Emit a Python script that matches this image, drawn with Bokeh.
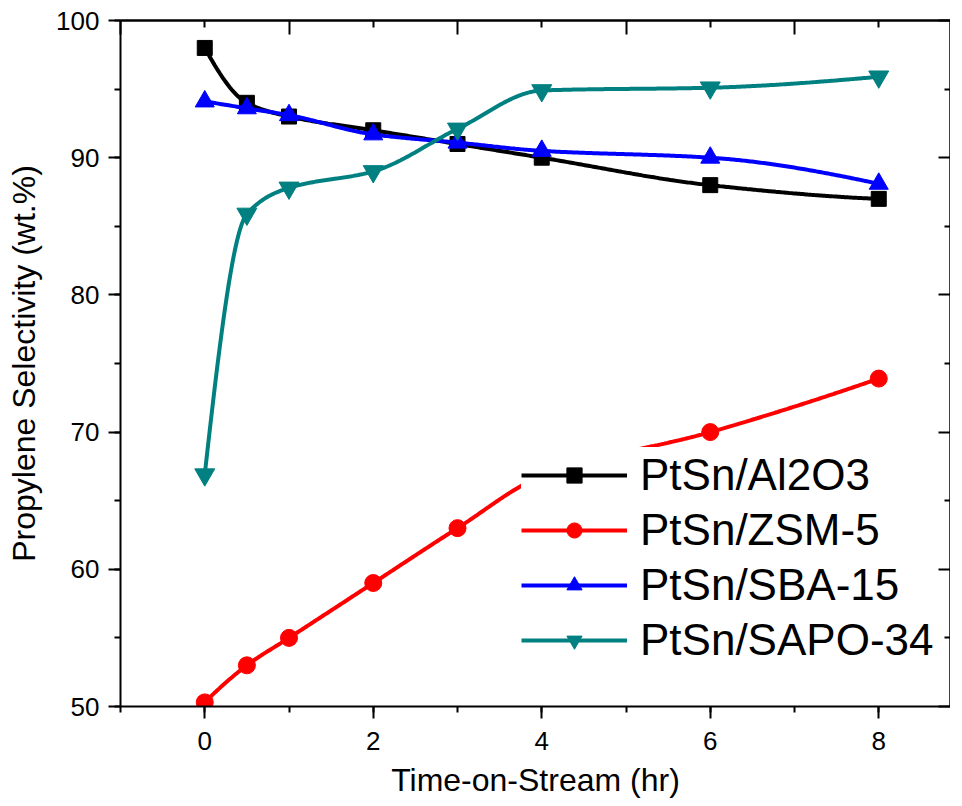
import numpy as np
from bokeh.plotting import figure
from bokeh.models import (Range1d, LinearAxis, SingleIntervalTicker, FixedTicker,
                          Legend, LegendItem)
from bokeh.embed import file_html
from bokeh.resources import INLINE

# ---- data ----
time_hr = [0, 0.5, 1, 2, 3, 4, 6, 8]
al2o3 = [98.0, 94.0, 93.0, 92.0, 91.0, 90.0, 88.0, 87.0]
zsm5 = [50.3, 53.0, 55.0, 59.0, 63.0, 66.8, 70.0, 73.9]
sba15 = [94.1, 93.6, 93.1, 91.7, 91.1, 90.5, 90.0, 88.1]
sapo34 = [66.9, 85.9, 87.8, 89.0, 92.1, 94.9, 95.1, 95.9]

series_names = ["PtSn/Al2O3", "PtSn/ZSM-5", "PtSn/SBA-15", "PtSn/SAPO-34"]
series_values = [al2o3, zsm5, sba15, sapo34]
series_colors = ["#000000", "#FF0000", "#0000FF", "#008080"]
series_markers = ["square", "circle", "triangle", "inverted_triangle"]
series_sizes = [15, 17, 19, 20]

# tick positions of the unlabelled top / right frame sides
top_long_ticks = [-1, 1, 3, 5, 7, 9]
top_short_ticks = [0, 2, 4, 6, 8]
right_long_ticks = [50, 60, 70, 80, 90, 100]
right_short_ticks = [55, 65, 75, 85, 95]

FONT = "Liberation Sans"


def pchip(x, y, xs):
    """Shape-preserving cubic (smooth connecting line through the points)."""
    x = np.asarray(x, float)
    y = np.asarray(y, float)
    n = len(x)
    h = np.diff(x)
    delta = np.diff(y) / h
    d = np.zeros(n)
    for k in range(1, n - 1):
        if delta[k - 1] * delta[k] <= 0:
            d[k] = 0.0
        else:
            w1 = 2 * h[k] + h[k - 1]
            w2 = h[k] + 2 * h[k - 1]
            d[k] = (w1 + w2) / (w1 / delta[k - 1] + w2 / delta[k])

    def end(h0, h1, d0, d1):
        v = ((2 * h0 + h1) * d0 - h0 * d1) / (h0 + h1)
        if np.sign(v) != np.sign(d0):
            v = 0.0
        elif np.sign(d0) != np.sign(d1) and abs(v) > abs(3 * d0):
            v = 3 * d0
        return v

    d[0] = end(h[0], h[1], delta[0], delta[1])
    d[-1] = end(h[-1], h[-2], delta[-1], delta[-2])
    xs = np.asarray(xs, float)
    idx = np.clip(np.searchsorted(x, xs, side="right") - 1, 0, n - 2)
    t = (xs - x[idx]) / h[idx]
    h00 = 2 * t**3 - 3 * t**2 + 1
    h10 = t**3 - 2 * t**2 + t
    h01 = -2 * t**3 + 3 * t**2
    h11 = t**3 - t**2
    return (h00 * y[idx] + h10 * h[idx] * d[idx] + h01 * y[idx + 1]
            + h11 * h[idx] * d[idx + 1])


frame_w = 830
px_per_unit = 84.25
x_start = -1.0
x_end = x_start + frame_w / px_per_unit

p = figure(frame_width=frame_w, frame_height=686,
           x_range=Range1d(x_start, x_end), y_range=Range1d(50, 100),
           output_backend="svg", toolbar_location=None,
           min_border_left=120, min_border_top=20, min_border_bottom=92,
           min_border_right=0)
p.xgrid.visible = False
p.ygrid.visible = False
p.outline_line_color = None
p.background_fill_color = "white"

# bottom axis
xb = p.xaxis[0]
xb.ticker = SingleIntervalTicker(interval=2, num_minor_ticks=2)
xb.axis_label = "Time-on-Stream (hr)"
# left axis
yl = p.yaxis[0]
yl.ticker = SingleIntervalTicker(interval=10, num_minor_ticks=2)
yl.axis_label = "Propylene Selectivity (wt.%)"

for ax in (xb, yl):
    ax.axis_line_width = 2
    ax.axis_line_color = "black"
    ax.major_tick_line_width = 2
    ax.minor_tick_line_width = 2
    ax.major_tick_out = 12
    ax.major_tick_in = 0
    ax.minor_tick_out = 6
    ax.minor_tick_in = 0
    ax.major_label_text_font = FONT
    ax.major_label_text_font_size = "26px"
    ax.major_label_text_color = "black"
    ax.axis_label_text_font = FONT
    ax.axis_label_text_font_size = "32px"
    ax.axis_label_text_font_style = "normal"
    ax.axis_label_text_color = "black"
xb.major_label_standoff = 13
xb.axis_label_standoff = 9
yl.major_label_standoff = 9
yl.axis_label_standoff = 11


def tick_only_axis(long_ticks, short_ticks, long_len, short_len):
    """Unlabelled frame side: ticks pointing into the plot, drawn as minor ticks."""
    ax_long = LinearAxis(ticker=FixedTicker(ticks=[], minor_ticks=long_ticks))
    ax_short = LinearAxis(ticker=FixedTicker(ticks=[], minor_ticks=short_ticks))
    for ax, ln in ((ax_long, long_len), (ax_short, short_len)):
        ax.axis_line_width = 2
        ax.axis_line_color = "black"
        ax.major_tick_out = 0
        ax.major_tick_in = 0
        ax.minor_tick_line_width = 2
        ax.minor_tick_out = 0
        ax.minor_tick_in = ln
        ax.major_label_standoff = 0
        ax.axis_label_standoff = 0
    return ax_long, ax_short


for ax in tick_only_axis(top_long_ticks, top_short_ticks, 14, 7):
    p.add_layout(ax, "above")
for ax in tick_only_axis(right_long_ticks, right_short_ticks, 12, 6):
    p.add_layout(ax, "right")

xs_dense = np.linspace(min(time_hr), max(time_hr), 400)
items = []
for name, vals, color, marker, size in zip(series_names, series_values, series_colors,
                                           series_markers, series_sizes):
    ln = p.line(xs_dense, pchip(time_hr, vals, xs_dense), line_color=color, line_width=4)
    sc = p.scatter(time_hr, vals, marker=marker, size=size, fill_color=color,
                   line_color=color)
    items.append(LegendItem(label=name, renderers=[ln, sc]))

legend = Legend(items=items, location=(401, 39))
legend.label_text_font = FONT
legend.label_text_font_size = "44px"
legend.label_text_color = "black"
legend.glyph_width = 106
legend.glyph_height = 38
legend.label_height = 55
legend.label_standoff = 13
legend.spacing = 0
legend.padding = 6
legend.margin = 0
legend.border_line_color = None
legend.background_fill_color = "white"
legend.background_fill_alpha = 1.0
p.add_layout(legend)

open("out.html", "w").write(file_html(p, INLINE))
